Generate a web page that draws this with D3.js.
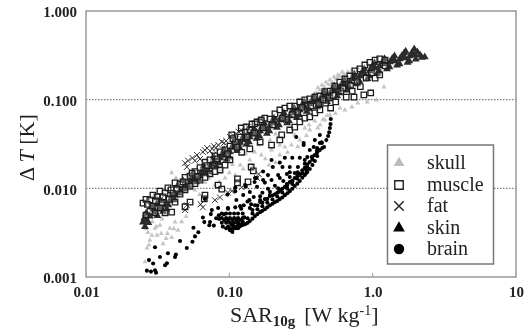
<!DOCTYPE html>
<meta charset="utf-8">
<style>
body { margin: 0; background: #fff; }
svg { display: block; filter: blur(0.45px); }
.axis path, .axis line { display: none; }
.axis text { font-family: "Liberation Serif", serif; font-weight: bold; font-size: 15px; fill: #222; }
.grid { stroke: #333; stroke-width: 0.8px; stroke-dasharray: 1.5 1.5; }
.frame { fill: none; stroke: #999; stroke-width: 1.5px; }
.legendBox { fill: #fff; stroke: #777; stroke-width: 1.5px; }
.legendText { font-family: "Liberation Serif", serif; font-size: 20px; fill: #222; }
.title { font-family: "Liberation Serif", serif; font-size: 22px; fill: #222; }
</style>
<svg width="528" height="333"></svg>
<script src="https://d3js.org/d3.v7.min.js"></script>
<script>
var xTicks = [0.01, 0.1, 1, 10], xLabels = ["0.01", "0.10", "1.0", "10"];
var yTicks = [1, 0.1, 0.01, 0.001], yLabels = ["1.000", "0.100", "0.010", "0.001"];
var gridValues = [0.1, 0.01];
var names = ["skull", "muscle", "fat", "skin", "brain"];

// [SAR, dT]
var skull = [[.0258,.00148],[.0266,.00212],[.0279,.0026],[.027,.00318],[.0288,.00296],[.0303,.00355],[.0313,.00296],[.0328,.00384],[.0345,.00237],[.0362,.00272],[.0396,.0028],[.0385,.00355],[.0418,.00416],[.0438,.00337],[.0396,.015],[.0424,.0131],[.0453,.0109],
  [.0576,.00955],[.0676,.0117],[.0794,.0109],[.0933,.0131],[.11,.0141],[.119,.0183],[.139,.0209],[.15,.0257],[.167,.0238],[.189,.0183],[.197,.0271],[.225,.0238],[.244,.0293],[.271,.0308],[.31,.0351],[.364,.0455],[.414,.0479],[.464,.059],[.395,.0575],[.336,.0479],[.286,.04],[.225,.0308],[.192,.0351],
  [.378,.107],[.402,.119],[.428,.129],[.458,.139],[.489,.15],[.521,.158],[.556,.171],[.59,.185],[.631,.195],[.442,.146],[.503,.167],[.573,.19],[.414,.136],[.472,.158],[.538,.18],[.613,.205],[.67,.205],[.717,.216],[.788,.228],[.35,.0993],[.39,.115],[.45,.128],[.51,.146],[.57,.172],
  [1.2,.139],[.717,.0826],[.788,.0915],[.916,.0942],[1.06,.0993],[.59,.0805],[.64,.0765],[.503,.0672],[.45,.06],[.55,.07],
  [.0262,.0035],[.029,.0042],[.034,.0045],[.048,.0093],[.056,.0107],[.072,.0131],[.088,.0162],[.105,.0185],[.13,.0245],[.16,.031],[.21,.041],
  [.0275,.0023],[.031,.0037],[.0335,.0031],[.037,.0031],[.041,.0035],[.0465,.0042],[.05,.0048],[.062,.0085],[.085,.0118],[.1,.015],[.125,.0165],[.145,.0178],[.178,.0215],[.21,.0195],[.255,.0255],[.3,.0295],[.345,.0395],[.43,.052],[.48,.066],[.36,.052]];

var muscle = [[.025,.0068],[.0262,.0075],[.0279,.0074],[.0293,.0084],[.0313,.008],[.0328,.0093],[.0356,.0089],[.0373,.0101],[.0392,.0096],[.0418,.0115],[.0453,.0112],[.0491,.0133],[.0532,.0137],[.0576,.0154],[.0624,.0171],[.0676,.0197],[.0733,.0209],[.0794,.0232],[.0861,.0258],[.0933,.0271],[.101,.03],[.11,.0334],[.119,.0379],[.129,.0432],[.139,.0455],[.151,.0532],[.164,.056],[.177,.062],[.192,.0605],[.208,.069],[.225,.0765],[.244,.0805],[.264,.0848],[.286,.0848],[.31,.0942],[.336,.0993],[.364,.102],[.395,.107],[.428,.11],[.464,.123],[.503,.125],[.545,.142],[.59,.158],[.64,.171],[.693,.185],[.751,.211],[.814,.222],[.882,.246],[.956,.264],[1.04,.28],[1.12,.288],[1.22,.28],
  [.0262,.005],[.0279,.0055],[.0303,.0053],[.0328,.006],[.0356,.0053],[.0396,.0054],[.0418,.007],[.0453,.0086],[.0491,.0096],[.0532,.0105],[.0576,.0113],[.0624,.0124],[.0676,.0133],[.0733,.0146],[.0794,.0154],[.0861,.0161],[.0933,.0183],[.101,.0209],[.122,.0255],[.139,.0278],[.164,.0333],[.197,.0308],[.225,.0351],[.232,.04],[.264,.0455],[.286,.049],[.31,.0562],[.336,.062],[.364,.064],[.395,.071],[.428,.0765],[.47,.0915],[.509,.0805],[.552,.0942],[.654,.107],[.741,.107],[.868,.113],[.969,.119],[1.04,.175],[1.12,.19],[1.22,.24],
  [.104,.04],[.106,.0364],[.121,.0479],[.131,.0492],[.144,.0532],[.156,.056],[.167,.059],
  [.0491,.0062],[.0532,.007],[.0676,.00838],[.0669,.0076],[.0835,.0109],[.0886,.0098],[.114,.0128],[.114,.0115],[.135,.0118],[.142,.0174],[.147,.0157],
  [.029,.0063],[.034,.0069],[.038,.0075],[.25,.06],[.3,.072],[.42,.09],[.5,.105],[.6,.125],[.7,.145],[.78,.16],
  [.0268,.0066],[.0305,.0072],[.0345,.008],[.0405,.0088],[.043,.0098],[.0475,.0118],[.055,.0148],[.06,.0136],[.07,.018],[.082,.0215],[.097,.0245],[.113,.029],[.133,.038],[.15,.042],[.172,.048],[.2,.052],[.235,.062],[.275,.068],[.32,.082],[.37,.085],[.45,.1],[.53,.112],[.62,.135],[.72,.125],[.82,.14],[.9,.175],[.98,.2]];

var fat = [[.0491,.0192],[.0505,.0174],[.0553,.022],[.0594,.0238],[.0624,.0214],[.0654,.0257],[.07,.0284],[.0733,.0264],[.0782,.0299],[.0838,.0308],[.0886,.0334],[.095,.0343],[.101,.0379],[.112,.041],[.121,.0455],[.135,.0492],
  [.0491,.00568],[.0505,.00646],[.0631,.0066],[.0654,.0061],[.0794,.00736],[.0861,.0079],[.0977,.00895],[.104,.0093],[.122,.0103],[.131,.0105],[.156,.0131],[.077,.0238],[.16,.0145],
  [.028,.0064],[.033,.0075],[.039,.0086],[.045,.0098],[.055,.0125],[.07,.0165],[.09,.0218],[.12,.0315],[.16,.0445],[.22,.06],[.3,.078],[.4,.098],[.55,.13],[.75,.175],[1.0,.22],
  [.0515,.0205],[.0575,.0205],[.0675,.027],[.076,.028],[.0805,.0285],[.092,.0325],[.106,.0395],[.116,.0435]];

var skin = [[.025,.00416],[.0266,.00438],[.0279,.00486],[.0303,.00539],[.0328,.006],[.0356,.00646],[.0385,.00736],[.0418,.00838],[.0453,.00955],[.0491,.0106],[.0532,.0118],[.0576,.0131],[.0624,.0141],[.0676,.0157],[.0733,.0174],[.0794,.0198],[.0861,.022],[.0933,.0238],[.101,.0257],[.11,.0293],[.119,.0329],[.129,.0351],[.139,.0379],[.151,.041],[.164,.0443],[.177,.0479],[.192,.0505],[.208,.0545],[.225,.059],[.244,.062],[.264,.0654],[.286,.0708],[.31,.0765],[.336,.0826],[.364,.0895],[.395,.0941],[.428,.0993],[.464,.107],[.503,.116],[.545,.125],[.59,.136],[.64,.146],[.693,.158],[.751,.171],[.814,.185],[.882,.195],[.956,.211],[1.04,.228],[1.12,.24],[1.22,.253],[1.32,.266],[1.43,.273],[1.55,.288],[1.68,.295],[1.82,.311],[1.97,.319],[2.14,.319],[2.31,.303],
  [.0258,.0037],[.0262,.0052],[.029,.0062],[.0315,.0049],[.034,.0072],[.0365,.0058],[.04,.0083],[.0435,.0107],[.0475,.0122],[.052,.0105],[.056,.0148],[.061,.0125],[.066,.0178],[.072,.0153],[.078,.0223],[.085,.0193],[.092,.0271],[.1,.0225],[.108,.0335],[.118,.0288],[.127,.0398],[.137,.0333],[.149,.0465],[.162,.0389],[.175,.0545],[.19,.0445],[.205,.062],[.222,.0518],[.241,.0705],[.261,.0575],[.283,.0805],[.307,.067],[.333,.094],[.36,.0785],[.391,.107],[.424,.0875],[.46,.122],[.5,.102],[.54,.142],[.585,.119],[.635,.166],[.687,.139],[.745,.195],[.807,.162],[.875,.222],[.948,.185],[1.03,.26],[1.11,.21],[1.21,.288],[1.31,.234],[1.42,.311],[1.54,.253],[1.66,.336],[1.8,.273],[1.95,.373],[1.7,.35],[2.05,.345],[2.2,.3],
  [.0255,.0046],[.0272,.0041],[.0295,.0058],[.031,.0066],[.0345,.0055],[.0375,.0065],[.0415,.0074],[.0445,.0088],[.0485,.0098],[.054,.0127],[.0585,.0118],[.0635,.0152],[.0685,.0145],[.0745,.0187],[.081,.0178],[.088,.0238],[.096,.0212],[.104,.029],[.113,.0265],[.123,.0365],[.132,.0315],[.143,.0425],[.155,.0365],[.169,.0495],[.183,.0415],[.198,.0565],[.215,.0485],[.233,.0655],[.253,.0545],[.274,.0745],[.296,.0625],[.32,.0865],[.347,.0735],[.377,.098],[.41,.0825],[.445,.112],[.48,.095],[.52,.129],[.565,.11],[.61,.152],[.66,.128],[.72,.178],[.78,.15],[.84,.204],[.92,.172],[.99,.238],[1.08,.198],[1.17,.268],[1.26,.222],[1.37,.29],[1.48,.245],[1.6,.313],[1.75,.262],[1.88,.338],[2.0,.285]];

var brain = [[.101,.00337],[.11,.00355],[.119,.00374],[.129,.00394],[.139,.00427],[.151,.00486],[.164,.00539],[.177,.00582],[.192,.00646],[.208,.00699],[.225,.00756],[.244,.00838],[.264,.0093],[.286,.0106],[.31,.0121],[.336,.0141],[.364,.0165],[.395,.0203],[.428,.0271],[.458,.0293],[.489,.039],[.503,.0479],[.51,.0604],
  [.106,.0038],[.115,.004],[.124,.0042],[.134,.0046],[.145,.0052],[.157,.0058],[.17,.0063],[.184,.0069],[.2,.0075],[.216,.0081],[.234,.009],[.254,.0099],[.275,.0112],[.298,.0128],[.323,.0148],[.35,.0174],[.38,.0212],[.41,.0255],[.445,.0285],[.475,.035],[.497,.043],[.508,.053],
  [.145,.0057],[.157,.0064],[.17,.0069],[.184,.0076],[.2,.0083],[.216,.0089],[.234,.0099],[.254,.0109],[.275,.0122],[.298,.0139],[.323,.016],[.35,.0187],[.38,.0228],[.41,.027],[.44,.033],
  [.0266,.00118],[.0284,.00115],[.0308,.00112],[.0303,.00119],[.0275,.00155],[.0294,.00142],[.0303,.00217],[.0328,.00168],[.0356,.00136],[.0367,.00143],[.0373,.00185],[.0418,.00168],[.0424,.00179],[.0453,.00255],[.0505,.00212],[.0553,.0025],[.0562,.0036],[.0576,.00287],[.0608,.0032],[.0654,.00468],[.0669,.00416],[.0725,.00384],[.0743,.00512],[.0755,.00568],[.0809,.0046],[.0844,.00498],[.0835,.006],[.0917,.0051],[.0676,.0076],
  [.0886,.0052],[.095,.0052],[.101,.0052],[.108,.0052],[.115,.0052],[.124,.0052],[.0886,.00462],[.095,.00462],[.101,.00462],[.108,.00462],[.115,.00462],[.124,.00462],[.0886,.0041],[.095,.0041],[.101,.0041],[.108,.0041],[.115,.0041],[.124,.0041],[.095,.00355],[.101,.00355],[.108,.00355],[.115,.00355],[.105,.00322],[.098,.0059],[.11,.0061],[.121,.0059],
  [.126,.00646],[.138,.00736],[.164,.00815],[.192,.00915],[.219,.01],[.252,.0112],[.275,.012],[.31,.0141],[.344,.0149],
  [.252,.0102],[.219,.00905],[.192,.0084],[.164,.0074],[.142,.0066],
  [.244,.0221],[.31,.0221],[.35,.0225],[.201,.0174],[.235,.0174],[.264,.0174],[.301,.0174],[.186,.0141],[.219,.0141],[.252,.0145],[.286,.0149],[.344,.0161],[.293,.038],[.33,.0308],[.388,.0293],[.364,.0271],[.395,.0351],[.428,.04],[.442,.0325],[.408,.0257],[.376,.0225],[.336,.0209],[.275,.0221],[.33,.0325],[.41,.0285],
  [.155,.0131],[.172,.0124],[.15,.0118],[.13,.0105],[.11,.0093],[.097,.0085],
  [.139,.006],[.151,.00646],[.164,.00699],[.177,.00756],[.192,.00818],[.208,.00858],[.225,.00955],[.244,.0104],[.264,.0118],[.286,.0131],[.31,.0145],[.336,.017],[.364,.0198],[.395,.0238],[.428,.0325],
  [.119,.0063],[.134,.0071],[.148,.008],[.17,.0089],[.186,.0099],[.208,.0107],[.238,.0121],[.264,.0134],[.3,.0152],[.336,.0189],
  [.0977,.006],[.112,.0074],[.125,.0084],[.139,.0091],[.156,.0104],[.177,.0116],[.197,.0124],[.225,.0131],[.264,.0152],
  [.11,.0102],[.129,.0109],[.151,.0131],[.172,.0155],[.197,.0209],[.225,.0195],
  [.0733,.00416],[.078,.0038],[.085,.0045],[.09,.0037],[.092,.0044],[.098,.0044],[.105,.0044],[.112,.0044],[.119,.0044],[.127,.0047],[.098,.0037],[.104,.0039],[.112,.0037],[.12,.0039],
  [.105,.00345],[.114,.00368],[.124,.00385],[.134,.00408],[.145,.00455],[.157,.00512],[.17,.0056],[.184,.0061],[.2,.0067],[.216,.0072],[.234,.0079],[.254,.0088],[.275,.0099],[.298,.0113],[.323,.0132],[.35,.0153],[.38,.0183],[.41,.0232]];

var svg = d3.select("svg");
var xScale = d3.scaleLog().domain([0.01, 10]).range([86, 516]);
var yScale = d3.scaleLog().domain([0.001, 1]).range([277, 11]);

xTicks.forEach(function(v) {
  if (v > 0.01 && v < 10) {
    svg.append("line").attr("x1", xScale(v)).attr("x2", xScale(v)).attr("y1", 277).attr("y2", 273).attr("stroke", "#999");
  }
});

svg.selectAll(".grid").data(gridValues).enter().append("line")
    .attr("class", "grid")
    .attr("x1", 86).attr("x2", 516)
    .attr("y1", function(d) { return yScale(d); })
    .attr("y2", function(d) { return yScale(d); });

svg.append("rect").attr("class", "frame")
    .attr("x", 86).attr("y", 11).attr("width", 430).attr("height", 266);

var sym = function(type, size) { return d3.symbol().type(type).size(size); };

function plot(data, path, fill, stroke, sw, fillOpacity) {
  svg.append("g").selectAll("path").data(data).enter().append("path")
      .attr("d", path)
      .attr("transform", function(d) { return "translate(" + xScale(d[0]) + "," + yScale(d[1]) + ")"; })
      .attr("fill", fill).attr("fill-opacity", fillOpacity).attr("stroke", stroke).attr("stroke-width", sw);
}

plot(skull, sym(d3.symbolTriangle, 11), "#c4c4c4", "none", 0, 1);
plot(fat, sym(d3.symbolTimes, 24), "none", "#333", 1, 1);
plot(skin, sym(d3.symbolTriangle, 27), "#2b2b2b", "none", 0, 1);
// squares sit over the band, their middles still show most of it
plot(muscle, sym(d3.symbolSquare, 30), "#fff", "#1c1c1c", 1.3, 0.22);
plot(brain, sym(d3.symbolCircle, 13), "#000", "none", 0, 1);

svg.append("g").attr("class", "axis")
    .attr("transform", "translate(0,283)")
    .call(d3.axisBottom(xScale).tickValues(xTicks).tickSize(0)
      .tickFormat(function(d, i) { return xLabels[i]; }));
svg.append("g").attr("class", "axis")
    .attr("transform", "translate(80,1)")
    .call(d3.axisLeft(yScale).tickValues(yTicks).tickSize(0)
      .tickFormat(function(d, i) { return yLabels[i]; }));

// legend
svg.append("rect").attr("class", "legendBox").attr("x", 387.5).attr("y", 145).attr("width", 106).attr("height", 119);
var legendY = [163, 185, 206, 228, 249];
var legendMarks = [
  sym(d3.symbolTriangle, 50), sym(d3.symbolSquare, 72), sym(d3.symbolTimes, 60),
  sym(d3.symbolTriangle, 60), sym(d3.symbolCircle, 85)];
var legendFill = ["#bbb", "#fff", "none", "#000", "#000"];
var legendStroke = ["none", "#222", "#222", "none", "none"];
names.forEach(function(n, i) {
  svg.append("path").attr("d", legendMarks[i])
      .attr("transform", "translate(399," + legendY[i] + ")")
      .attr("fill", legendFill[i]).attr("stroke", legendStroke[i]).attr("stroke-width", 1.4);
  svg.append("text").attr("class", "legendText").attr("x", 427).attr("y", legendY[i] + 6).text(n);
});

// axis titles
var xt = svg.append("text").attr("class", "title").attr("x", 230).attr("y", 322);
xt.append("tspan").text("SAR");
xt.append("tspan").attr("dy", 4).attr("font-size", 15).attr("font-weight", "bold").text("10g");
xt.append("tspan").attr("dy", -4).attr("dx", 9).text("[W kg");
xt.append("tspan").attr("dy", -7).attr("font-size", 14).text("-1");
xt.append("tspan").attr("dy", 7).text("]");

var yt = svg.append("text").attr("class", "title")
    .attr("transform", "translate(34,181) rotate(-90)");
yt.append("tspan").text("Δ ");
yt.append("tspan").attr("font-style", "italic").text("T");
yt.append("tspan").text(" [K]");
</script>
